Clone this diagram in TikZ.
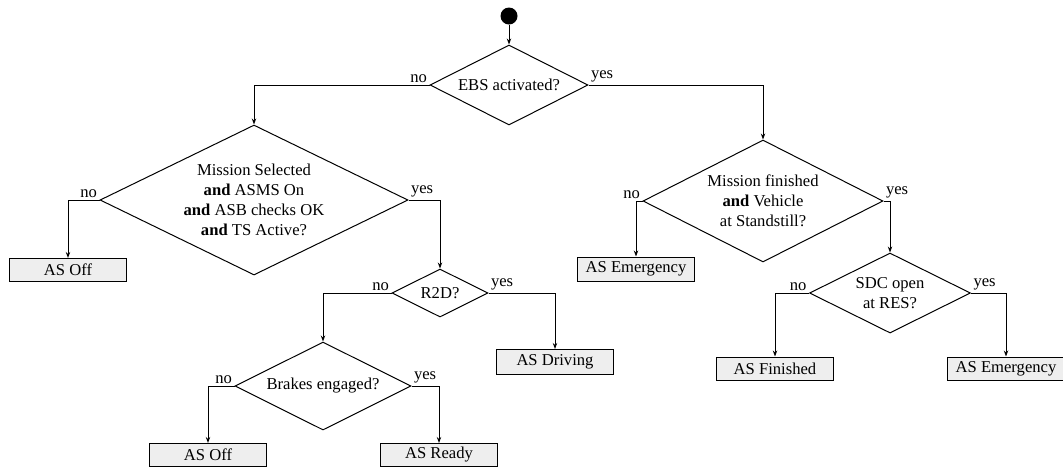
\documentclass[tikz,border=0pt]{standalone}
\usepackage{fontspec}
\setmainfont{Liberation Serif}
\usetikzlibrary{shapes.geometric,arrows.meta}
\begin{document}
\begin{tikzpicture}[x=0.5pt,y=-0.5pt,
  every node/.style={font=\fontsize{8.3}{10}\selectfont},
  dec/.style={diamond,draw,line width=0.5pt,inner sep=0pt,aspect=2,align=center},
  state/.style={rectangle,draw,line width=0.5pt,fill=gray!13,minimum width=58.5pt,minimum height=11.5pt,inner sep=0pt},
  arr/.style={line width=0.5pt,-{Stealth[length=3pt,width=2.2pt]}},
  lbl/.style={inner sep=1pt}]
\useasboundingbox (0,0) rectangle (1063,468);
\node[circle,fill=black,minimum size=8.5pt,inner sep=0pt] (start) at (509,16) {};
\node[dec,minimum width=79pt,minimum height=40pt] (ebs) at (509,85) {EBS activated?};
\node[dec,minimum width=154pt,minimum height=75pt] (ms) at (254,200) {Mission Selected\\\textbf{and} ASMS On\\\textbf{and} ASB checks OK\\\textbf{and} TS Active?};
\node[state] (off1) at (68,270) {AS Off};
\node[dec,minimum width=48pt,minimum height=24pt] (r2d) at (440,293) {R2D?};
\node[state,minimum height=12.5pt] (drv) at (555,362) {AS Driving};
\node[dec,minimum width=88pt,minimum height=44pt] (brk) at (323,386) {Brakes engaged?};
\node[state] (off2) at (208,455) {AS Off};
\node[state] (rdy) at (439,455) {AS Ready};
\node[dec,minimum width=120pt,minimum height=61pt] (mf) at (763,201) {Mission finished\\\textbf{and} Vehicle\\at Standstill?};
\node[state,minimum height=12pt] (em1) at (636,269) {AS Emergency};
\node[dec,minimum width=80.5pt,minimum height=40pt] (sdc) at (890,293) {SDC open\\at RES?};
\node[state] (fin) at (775,368.5) {AS Finished};
\node[state] (em2) at (1006,368.5) {AS Emergency};
\draw[arr] (start) -- (ebs.north);
\draw[arr] (ebs.west) node[lbl,anchor=south east]{no} -| (ms.north);
\draw[arr] (ebs.east) node[lbl,anchor=south west]{yes} -| (mf.north);
\draw[arr] (ms.west) node[lbl,anchor=south east]{no} -| (off1.north);
\draw[arr] (ms.east) node[lbl,anchor=south west]{yes} -| (r2d.north);
\draw[arr] (r2d.west) node[lbl,anchor=south east]{no} -| (brk.north);
\draw[arr] (r2d.east) node[lbl,anchor=south west]{yes} -| (drv.north);
\draw[arr] (brk.west) node[lbl,anchor=south east]{no} -| (off2.north);
\draw[arr] (brk.east) node[lbl,anchor=south west]{yes} -| (rdy.north);
\draw[arr] (mf.west) node[lbl,anchor=south east]{no} -| (em1.north);
\draw[arr] (mf.east) node[lbl,anchor=south west]{yes} -| (sdc.north);
\draw[arr] (sdc.west) node[lbl,anchor=south east]{no} -| (fin.north);
\draw[arr] (sdc.east) node[lbl,anchor=south west]{yes} -| (em2.north);
\end{tikzpicture}
\end{document}
